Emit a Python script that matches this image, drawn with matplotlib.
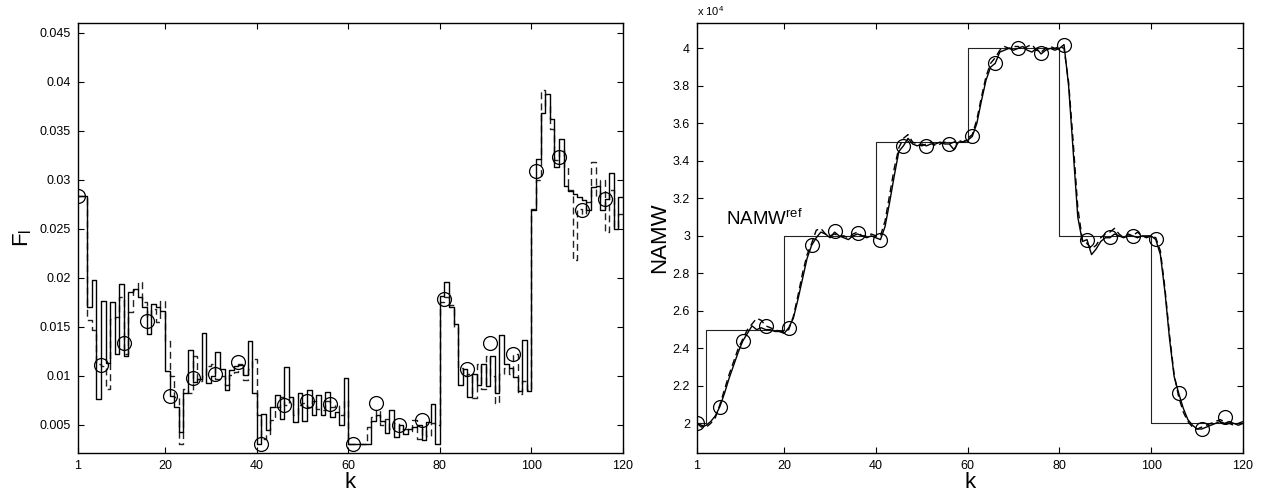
import numpy as np
import matplotlib
matplotlib.use("Agg")
import matplotlib.pyplot as plt
from matplotlib.ticker import FuncFormatter

plt.rcParams['font.family'] = ['Liberation Sans', 'DejaVu Sans']

k = np.arange(1, 121)

# left panel: F_l, solid and dashed stair series (k = 1..120)
fl_solid = [
    0.0283, 0.0283, 0.0170, 0.0198, 0.0076, 0.0176, 0.0113, 0.0175, 0.0122, 0.0194,
    0.0120, 0.0185, 0.0188, 0.0180, 0.0170, 0.0143, 0.0173, 0.0170, 0.0166, 0.0105,
    0.0079, 0.0068, 0.0042, 0.0082, 0.0126, 0.0094, 0.0097, 0.0144, 0.0092, 0.0100,
    0.0124, 0.0107, 0.0085, 0.0106, 0.0110, 0.0111, 0.0101, 0.0135, 0.0082, 0.0030,
    0.0061, 0.0044, 0.0068, 0.0080, 0.0056, 0.0109, 0.0078, 0.0053, 0.0082, 0.0054,
    0.0085, 0.0060, 0.0080, 0.0060, 0.0083, 0.0058, 0.0063, 0.0050, 0.0098, 0.0030,
    0.0030, 0.0030, 0.0030, 0.0030, 0.0054, 0.0060, 0.0054, 0.0041, 0.0065, 0.0037,
    0.0050, 0.0040, 0.0046, 0.0048, 0.0050, 0.0034, 0.0053, 0.0071, 0.0030, 0.0181,
    0.0196, 0.0170, 0.0153, 0.0090, 0.0107, 0.0078, 0.0102, 0.0090, 0.0112, 0.0089,
    0.0120, 0.0082, 0.0141, 0.0112, 0.0108, 0.0099, 0.0084, 0.0136, 0.0084, 0.0269,
    0.0321, 0.0368, 0.0388, 0.0362, 0.0313, 0.0342, 0.0294, 0.0288, 0.0285, 0.0282,
    0.0279, 0.0269, 0.0293, 0.0294, 0.0269, 0.0280, 0.0307, 0.0250, 0.0282, 0.0282,
]
fl_dashed = [
    0.0283, 0.0283, 0.0157, 0.0147, 0.0112, 0.0110, 0.0086, 0.0158, 0.0160, 0.0180,
    0.0122, 0.0165, 0.0187, 0.0196, 0.0175, 0.0160, 0.0168, 0.0155, 0.0176, 0.0135,
    0.0100, 0.0078, 0.0030, 0.0086, 0.0082, 0.0120, 0.0095, 0.0100, 0.0110, 0.0112,
    0.0097, 0.0100, 0.0090, 0.0101, 0.0104, 0.0112, 0.0096, 0.0107, 0.0117, 0.0060,
    0.0035, 0.0040, 0.0055, 0.0068, 0.0078, 0.0070, 0.0078, 0.0060, 0.0070, 0.0072,
    0.0068, 0.0074, 0.0066, 0.0065, 0.0074, 0.0068, 0.0070, 0.0060, 0.0075, 0.0030,
    0.0030, 0.0030, 0.0030, 0.0048, 0.0058, 0.0065, 0.0050, 0.0056, 0.0046, 0.0052,
    0.0045, 0.0046, 0.0043, 0.0055, 0.0035, 0.0046, 0.0038, 0.0052, 0.0050, 0.0175,
    0.0180, 0.0172, 0.0150, 0.0108, 0.0100, 0.0102, 0.0077, 0.0112, 0.0086, 0.0120,
    0.0100, 0.0072, 0.0102, 0.0108, 0.0102, 0.0122, 0.0081, 0.0095, 0.0085, 0.0270,
    0.0300, 0.0392, 0.0375, 0.0352, 0.0320, 0.0330, 0.0313, 0.0290, 0.0218, 0.0270,
    0.0265, 0.0277, 0.0318, 0.0282, 0.0300, 0.0247, 0.0290, 0.0252, 0.0265, 0.0265,
]
circle_k = np.arange(1, 121, 5)
fl_circles = [0.0283, 0.0111, 0.0133, 0.0156, 0.0079, 0.0098, 0.0102, 0.0114,
              0.0030, 0.0070, 0.0074, 0.0071, 0.0030, 0.0072, 0.0050, 0.0055,
              0.0178, 0.0107, 0.0133, 0.0122, 0.0309, 0.0323, 0.0269, 0.0280]

# right panel: NAMW (x 1e4)
ref_levels = [2.0, 2.5, 3.0, 3.5, 4.0, 3.0, 2.0]
ref_starts = [1, 3, 20, 40, 60, 80, 100]
namw_solid = [
    2.00, 1.98, 1.99, 2.01, 2.04, 2.09, 2.16, 2.24, 2.31, 2.38,
    2.44, 2.48, 2.52, 2.50, 2.51, 2.50, 2.50, 2.49, 2.49, 2.48,
    2.51, 2.56, 2.66, 2.77, 2.88, 2.95, 2.99, 3.02, 3.01, 2.99,
    3.02, 3.00, 2.99, 2.98, 3.00, 3.01, 3.00, 2.99, 3.00, 2.99,
    2.98, 3.05, 3.18, 3.32, 3.45, 3.48, 3.52, 3.49, 3.48, 3.49,
    3.48, 3.49, 3.49, 3.50, 3.49, 3.49, 3.46, 3.50, 3.50, 3.51,
    3.53, 3.60, 3.72, 3.83, 3.90, 3.92, 3.98, 3.99, 4.00, 3.99,
    4.00, 4.01, 3.99, 3.98, 4.00, 3.97, 3.99, 4.00, 3.99, 4.00,
    4.02, 3.80, 3.45, 3.10, 2.97, 2.98, 2.90, 2.93, 2.97, 2.99,
    2.99, 3.01, 3.00, 2.99, 3.00, 3.00, 2.99, 3.00, 3.00, 3.00,
    2.98, 2.90, 2.70, 2.45, 2.25, 2.16, 2.08, 2.02, 1.99, 1.97,
    1.97, 1.98, 1.99, 2.00, 2.01, 2.00, 2.01, 2.00, 1.99, 2.00,
]
namw_dashed = [
    2.00, 1.99, 1.98, 2.00, 2.03, 2.10, 2.18, 2.26, 2.33, 2.40,
    2.45, 2.50, 2.53, 2.56, 2.55, 2.52, 2.51, 2.50, 2.49, 2.49,
    2.50, 2.57, 2.68, 2.80, 2.90, 2.96, 3.03, 3.04, 3.01, 3.00,
    3.01, 3.00, 3.00, 2.99, 3.01, 3.02, 3.00, 3.00, 3.01, 3.00,
    3.00, 3.08, 3.22, 3.36, 3.47, 3.52, 3.54, 3.50, 3.49, 3.48,
    3.49, 3.50, 3.48, 3.49, 3.50, 3.49, 3.50, 3.51, 3.50, 3.52,
    3.54, 3.62, 3.74, 3.85, 3.92, 3.95, 3.99, 4.01, 4.00, 4.01,
    4.01, 3.99, 4.01, 4.02, 3.99, 3.98, 4.00, 4.01, 4.00, 4.01,
    4.00, 3.82, 3.50, 3.15, 2.98, 2.96, 2.93, 2.95, 2.99, 3.01,
    3.02, 3.04, 3.01, 2.99, 3.01, 3.00, 3.02, 3.00, 2.99, 3.00,
    2.99, 2.92, 2.72, 2.47, 2.26, 2.14, 2.06, 2.01, 1.98, 1.97,
    1.98, 1.99, 2.00, 2.01, 2.02, 2.01, 2.00, 1.99, 2.00, 2.01,
]
namw_circles = [2.00, 2.085, 2.44, 2.52, 2.507, 2.95, 3.025, 3.013, 2.98, 3.48,
                3.48, 3.49, 3.53, 3.923, 4.00, 3.973, 4.018, 2.98, 2.995, 3.00,
                2.985, 2.163, 1.968, 2.032]

seg_len = np.diff(ref_starts + [121])
namw_ref = np.repeat(ref_levels, seg_len) * 1e4
namw_solid = np.array(namw_solid) * 1e4
namw_dashed = np.array(namw_dashed) * 1e4
namw_circles = np.array(namw_circles) * 1e4

fig = plt.figure(figsize=(12.61, 4.93), dpi=100)
ax1 = fig.add_axes([0.0619, 0.0811, 0.4322, 0.8722])
ax2 = fig.add_axes([0.5527, 0.0811, 0.4330, 0.8722])

lw = 1.0
ax1.step(k, fl_dashed, where='post', color='#222222', lw=lw, ls=(0, (5, 3)))
ax1.step(k, fl_solid, where='post', color='k', lw=lw)
ax1.plot(circle_k, fl_circles, 'o', ms=10, mfc='none', mec='k', mew=0.9)
ax1.set_xlim(1, 120)
ax1.set_ylim(0.0021, 0.046)
ax1.set_yticks(np.arange(0.005, 0.0451, 0.005))
ax1.yaxis.set_major_formatter(FuncFormatter(lambda v, p: '%g' % round(v, 4)))
ax1.set_xlabel('k', fontsize=16, labelpad=0)
ax1.set_ylabel(r'F$_\mathregular{l}$', fontsize=16, labelpad=4)

ax2.plot(k, namw_ref, color='#222222', lw=0.8, drawstyle='steps-post')
ax2.plot(k, namw_dashed, color='k', lw=lw, ls=(0, (5, 3)))
ax2.plot(k, namw_solid, color='k', lw=lw)
ax2.plot(circle_k, namw_circles, 'o', ms=10, mfc='none', mec='k', mew=0.9)
ax2.set_xlim(1, 120)
ax2.set_ylim(1.842e4, 4.135e4)
ax2.set_yticks(np.arange(2.0, 4.01, 0.2) * 1e4)
ax2.yaxis.set_major_formatter(FuncFormatter(lambda v, p: '%g' % round(v / 1e4, 2)))
ax2.set_xlabel('k', fontsize=16, labelpad=0)
ax2.set_ylabel('NAMW', fontsize=16, labelpad=2)
ax2.text(7.3, 3.06e4, r'NAMW$^\mathregular{ref}$', fontsize=13.5, va='baseline')
ax2.text(0.0, 1.012, r'x 10$^\mathregular{4}$', transform=ax2.transAxes,
         fontsize=8, va='bottom', ha='left')

for ax in (ax1, ax2):
    ax.set_xticks([1, 20, 40, 60, 80, 100, 120])
    ax.tick_params(direction='in', top=True, right=True, length=4, width=0.8,
                   labelsize=9, pad=5)
    for s in ax.spines.values():
        s.set_linewidth(1.0)

fig.savefig('out.png', dpi=100)
